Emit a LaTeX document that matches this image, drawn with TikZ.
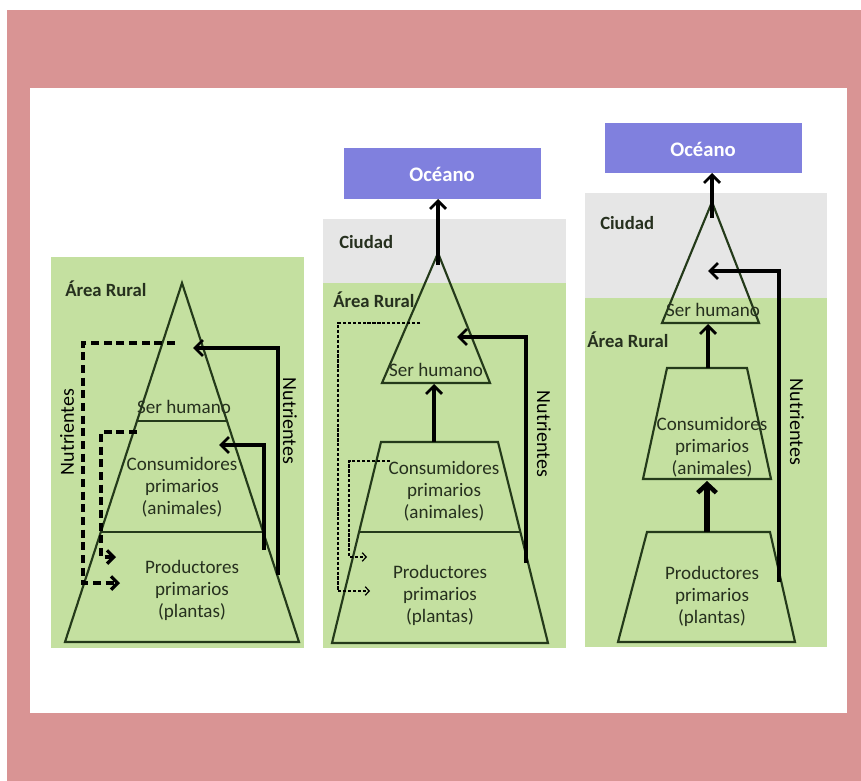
\documentclass[tikz,border=0pt]{standalone}
\usepackage{fontspec}
\setmainfont{Carlito}
\usetikzlibrary{arrows.meta}
\definecolor{pinkbg}{RGB}{217,148,148}
\definecolor{grn}{RGB}{196,224,160}
\definecolor{gry}{RGB}{230,230,230}
\definecolor{ocean}{RGB}{128,128,222}
\definecolor{outl}{RGB}{36,58,26}
\definecolor{txt}{RGB}{38,48,30}
\begin{document}
\begin{tikzpicture}[x=0.75pt,y=-0.75pt,
  pyr/.style={draw=outl, line width=1.6pt, line join=miter},
  arr/.style={draw=black, line width=2.3pt, line join=miter, -{Straight Barb[length=6pt,width=12pt,line width=2.1pt]}},
  thickarr/.style={draw=black, line width=4pt, -{Straight Barb[length=6.5pt,width=14pt,line width=3.4pt]}},
  dasharr/.style={draw=black, line width=2.6pt, dash pattern=on 6pt off 3.5pt, -{Straight Barb[length=5pt,width=10pt,line width=2.4pt]}},
  thindash/.style={draw=black, line width=0.9pt, dash pattern=on 2.4pt off 1.3pt, -{Straight Barb[length=3pt,width=6.5pt,line width=0.9pt]}},
  lbl/.style={font=\bfseries\fontsize{14}{16}\selectfont, text=txt, inner sep=0pt, anchor=west},
  body/.style={font=\fontsize{14.3}{16.5}\selectfont, align=center, text=txt, inner sep=0pt},
  nutr/.style={font=\fontsize{15}{17}\selectfont, text=black, inner sep=0pt},
  oceanbox/.style={fill=ocean, draw=none},
  oceantxt/.style={font=\bfseries\fontsize{15.5}{18}\selectfont, text=white, inner sep=0pt}
]
\useasboundingbox (0,0) rectangle (861,781);
\fill[white] (0,0) rectangle (861,781);
\fill[pinkbg] (7,10) rectangle (861,781);
\fill[white] (30,88) rectangle (847,713);

% ---------------- Left panel ----------------
\fill[grn] (51,257) rectangle (304,648);
\node[lbl] (rural1) at (65,289) {Área Rural};
\draw[pyr] (182,283) -- (299,642) -- (65,642) -- cycle;
\draw[pyr] (137,421) -- (227,421);
\draw[pyr] (101,532) -- (263,532);
\node[body] (ser1) at (184,407) {Ser humano};
\node[body] (cons1) at (182,487) {Consumidores\\primarios\\(animales)};
\node[body] (prod1) at (192,590) {Productores\\primarios\\(plantas)};
\coordinate (l1a) at (278,575); \coordinate (l1b) at (278,348); \coordinate (l1c) at (193,348);
\draw[arr] (l1a) -- (l1b) -- (l1c);
\coordinate (l2a) at (264,550); \coordinate (l2b) at (264,445); \coordinate (l2c) at (219,445);
\draw[arr] (l2a) -- (l2b) -- (l2c);
\coordinate (l3a) at (175,343); \coordinate (l3b) at (83,343); \coordinate (l3c) at (83,583); \coordinate (l3d) at (120,583);
\draw[dasharr] (l3a) -- (l3b) -- (l3c) -- (l3d);
\coordinate (l4a) at (137,432); \coordinate (l4b) at (101,432); \coordinate (l4c) at (101,557); \coordinate (l4d) at (116,557);
\draw[dasharr] (l4a) -- (l4b) -- (l4c) -- (l4d);
\node[nutr, rotate=-90] (nutr1r) at (290,421) {Nutrientes};
\node[nutr, rotate=90] (nutr1l) at (67,432) {Nutrientes};

% ---------------- Middle panel ----------------
\fill[gry] (323,219) rectangle (566,283);
\fill[grn] (323,283) rectangle (566,648);
\fill[oceanbox] (344,148) rectangle (541,199);
\node[oceantxt] (oc2) at (442,174) {Océano};
\coordinate (oc2b) at (438,199);
\node[lbl] (city2) at (339,242) {Ciudad};
\node[lbl] (rural2) at (333,300) {Área Rural};
\draw[pyr] (438,253) -- (490,383) -- (382,383) -- cycle;
\draw[pyr] (381,442) -- (498,442) -- (548,643) -- (332,643) -- cycle;
\draw[pyr] (359,532) -- (520,532);
\node[body] (ser2) at (436,370) {Ser humano};
\node[body] (cons2) at (444,491) {Consumidores\\primarios\\(animales)};
\node[body] (prod2) at (440,595) {Productores\\primarios\\(plantas)};
\coordinate (m0) at (438,265);
\draw[arr] (m0) -- (oc2b);
\coordinate (m1a) at (434,442); \coordinate (m1b) at (434,384);
\draw[arr] (m1a) -- (m1b);
\coordinate (m2a) at (526,563); \coordinate (m2b) at (526,337); \coordinate (m2c) at (457,337);
\draw[arr] (m2a) -- (m2b) -- (m2c);
\coordinate (m3a) at (420,323); \coordinate (m3b) at (338,323); \coordinate (m3c) at (338,591); \coordinate (m3d) at (370,591);
\draw[thindash] (m3a) -- (m3b) -- (m3c) -- (m3d);
\coordinate (m4a) at (390,461); \coordinate (m4b) at (349,461); \coordinate (m4c) at (349,557); \coordinate (m4d) at (367,557);
\draw[thindash] (m4a) -- (m4b) -- (m4c) -- (m4d);
\node[nutr, rotate=-90] (nutr2) at (544,434) {Nutrientes};

% ---------------- Right panel ----------------
\fill[gry] (585,193) rectangle (827,298);
\fill[grn] (585,298) rectangle (827,647);
\fill[oceanbox] (605,123) rectangle (802,173);
\node[oceantxt] (oc3) at (703,149) {Océano};
\coordinate (oc3b) at (712,173);
\node[lbl] (city3) at (600,223) {Ciudad};
\node[lbl] (rural3) at (587,340) {Área Rural};
\draw[pyr] (712,202) -- (759,323) -- (662,323) -- cycle;
\draw[pyr] (667,368) -- (747,368) -- (771,479) -- (643,479) -- cycle;
\draw[pyr] (647,532) -- (770,532) -- (795,642) -- (618,642) -- cycle;
\node[body] (ser3) at (713,310) {Ser humano};
\node[body] (cons3) at (712,447) {Consumidores\\primarios\\(animales)};
\node[body] (prod3) at (712,596) {Productores\\primarios\\(plantas)};
\coordinate (r0) at (712,218);
\draw[arr] (r0) -- (oc3b);
\coordinate (r1a) at (779,582); \coordinate (r1b) at (779,271); \coordinate (r1c) at (708,271);
\draw[arr] (r1a) -- (r1b) -- (r1c);
\coordinate (r2a) at (708,368); \coordinate (r2b) at (708,324);
\draw[arr] (r2a) -- (r2b);
\coordinate (r3a) at (707,532); \coordinate (r3b) at (707,481);
\draw[thickarr] (r3a) -- (r3b);
\node[nutr, rotate=-90] (nutr3) at (797,422) {Nutrientes};
\end{tikzpicture}
\end{document}
